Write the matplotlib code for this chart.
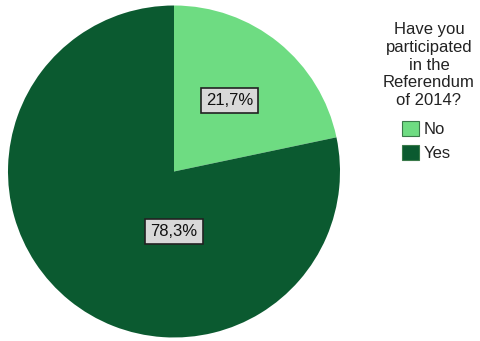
import matplotlib
matplotlib.use('Agg')
import matplotlib.pyplot as plt

plt.rcParams['font.family'] = ['Liberation Sans', 'DejaVu Sans']

answers = ['No', 'Yes']
shares = [21.7, 78.3]
colours = ['#6edc82', '#0b5a30']
legend_title = 'Have you\nparticipated\nin the\nReferendum\nof 2014?'

fig = plt.figure(figsize=(4.81, 3.41), dpi=100)
# pie centred at ~(174, 172) px with radius ~166 px
ax = fig.add_axes([8/481, 3.5/341, 332/481, 332/341])

wedges, _ = ax.pie(shares, colors=colours, startangle=90, counterclock=False,
                   wedgeprops=dict(linewidth=0))
ax.set_xlim(-1.0, 1.0)
ax.set_ylim(-1.0, 1.0)
ax.set_aspect('equal')

# percentage boxes, comma decimal separator
label_pos = [(0.334, 0.425), (0.0, -0.364)]
for val, (x, y) in zip(shares, label_pos):
    ax.text(x, y, ('%.1f%%' % val).replace('.', ','), ha='center', va='center',
            fontsize=12, color='#111111',
            bbox=dict(boxstyle='square,pad=0.3', facecolor='#d9d9d9',
                      edgecolor='#222222', linewidth=1.2))

fig.text(429/481, 1 - 65/341, legend_title, ha='center', va='center',
         fontsize=12, color='#222222', linespacing=1.22)
leg = fig.legend(wedges, answers, loc='upper left', bbox_to_anchor=(402/481, 1 - 121/341),
                 frameon=False, fontsize=12, handlelength=1.0, handleheight=1.0,
                 handletextpad=0.3, labelspacing=0.45, borderpad=0, borderaxespad=0)
for t in leg.get_texts():
    t.set_color('#222222')
for h in leg.legend_handles:
    h.set_edgecolor('#3a7a4a')
    h.set_linewidth(0.8)

fig.savefig('out.png', dpi=100)
